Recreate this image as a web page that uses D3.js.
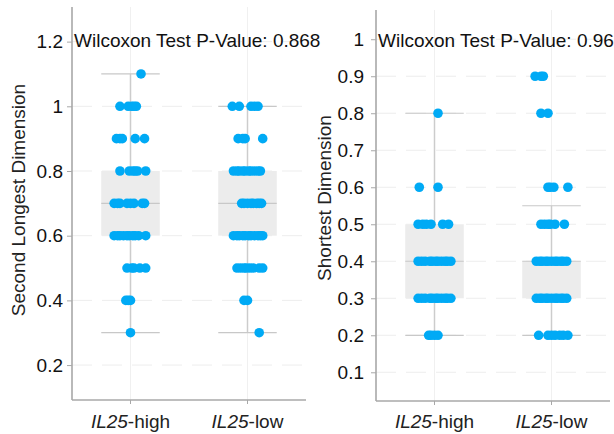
<!DOCTYPE html>
<html>
<head>
<meta charset="utf-8">
<script src="https://cdn.jsdelivr.net/npm/d3@7"></script>
<style>
  body { margin: 0; background: #fff; }
  svg { display: block; font-family: "Liberation Sans", Arial, sans-serif; }
</style>
</head>
<body>
<div id="chart"></div>
<script>
// categories and test results
var groups = ["IL25-high", "IL25-low"];
var pvalues = ["0.868", "0.96"];

// rows of points: [value, jitter offsets in % of category step]
var second_high = [
  [1.1, [9]],
  [1.0, [-9, -2, 1, 3, 5]],
  [0.9, [-12, -9, -7, 4, 12]],
  [0.8, [-9, -1, 2, 4, 6, 13]],
  [0.7, [-14, -11, -9, -3, 0, 3, 10, 12]],
  [0.6, [-14, -11, -9, -6, -3, -1, 2, 4, 7, 13]],
  [0.5, [-3, 1, 3, 8, 13]],
  [0.4, [-4, -2, 0]],
  [0.3, [0]]
];
var second_low = [
  [1.0, [-13, -7, 3, 6, 9]],
  [0.9, [-8, -4, -2, 13]],
  [0.8, [-12, -9, -7, -4, -2, 1, 3, 6, 9, 11]],
  [0.7, [-5, -3, 0, 3, 5, 8, 10, 12]],
  [0.6, [-12, -9, -7, -4, -2, 1, 3, 6, 9, 11, 13]],
  [0.5, [-9, -6, -3, -1, 2, 5, 10, 13]],
  [0.4, [-3, 0]],
  [0.3, [10]]
];
var shortest_high = [
  [0.8, [3]],
  [0.6, [-13, 3]],
  [0.5, [-14, -10, -7, -3, 7, 12]],
  [0.4, [-14, -11, -8, -4, -2, 1, 3, 6, 9, 11, 14]],
  [0.3, [-14, -11, -8, -4, -2, 1, 3, 6, 9, 11, 14]],
  [0.2, [-5, -3, 0, 3]]
];
var shortest_low = [
  [0.9, [-14, -9, -7]],
  [0.8, [-9, -3]],
  [0.6, [-3, -1, 2, 14]],
  [0.5, [-9, -6, -3, -1, 3, 11]],
  [0.4, [-13, -10, -8, -5, -3, 0, 3, 5, 8, 10, 13]],
  [0.3, [-13, -10, -8, -5, -3, 0, 3, 5, 8, 10, 13]],
  [0.2, [-11, -3, 0, 3, 7, 10, 14]]
];

// box stats: [whiskerLow, q1, median, q3, whiskerHigh]
var second_stats = [[0.3, 0.6, 0.7, 0.8, 1.1], [0.3, 0.6, 0.7, 0.8, 1.0]];
var shortest_stats = [[0.2, 0.3, 0.4, 0.5, 0.8], [0.2, 0.3, 0.4, 0.4, 0.55]];

// y ticks
var second_ticks = [0.2, 0.4, 0.6, 0.8, 1, 1.2];
var shortest_ticks = [0.1, 0.2, 0.3, 0.4, 0.5, 0.6, 0.7, 0.8, 0.9, 1];

var dotColor = "#00aaf5";

var svg = d3.select("#chart").append("svg")
  .attr("width", 614)
  .attr("height", 434);

function panel(opt) {
  var x = d3.scaleBand().domain(groups).range([opt.left, opt.right]).padding(0);
  var y = d3.scaleLinear().domain(opt.domain).range([opt.bottom, opt.top]);
  var g = svg.append("g");

  // grid
  g.selectAll(".hgrid").data(opt.ticks).enter().append("line")
    .attr("x1", opt.left).attr("x2", opt.right)
    .attr("y1", function (d) { return y(d); }).attr("y2", function (d) { return y(d); })
    .attr("stroke", "#ededed").attr("stroke-dasharray", "20,10");
  g.selectAll(".vgrid").data(groups).enter().append("line")
    .attr("x1", function (d) { return x(d) + x.bandwidth() / 2; })
    .attr("x2", function (d) { return x(d) + x.bandwidth() / 2; })
    .attr("y1", opt.top).attr("y2", opt.bottom)
    .attr("stroke", "#f0f0f0");

  // boxes
  var bw = x.bandwidth() * 0.5;
  opt.stats.forEach(function (s, i) {
    var cx = x(groups[i]) + x.bandwidth() / 2;
    g.append("line").attr("x1", cx).attr("x2", cx)
      .attr("y1", y(s[0])).attr("y2", y(s[4]))
      .attr("stroke", "#cccccc").attr("stroke-width", 1.5);
    g.append("rect").attr("x", cx - bw / 2).attr("width", bw)
      .attr("y", y(s[3])).attr("height", y(s[1]) - y(s[3]))
      .attr("fill", "#ececec");
    [s[0], s[2], s[4]].forEach(function (v) {
      g.append("line").attr("x1", cx - bw / 2).attr("x2", cx + bw / 2)
        .attr("y1", y(v)).attr("y2", y(v))
        .attr("stroke", "#c8c8c8").attr("stroke-width", 1.2);
    });
  });

  // points
  var pts = [];
  opt.series.forEach(function (rows, i) {
    rows.forEach(function (r) {
      r[1].forEach(function (j) { pts.push({ g: groups[i], v: r[0], j: j }); });
    });
  });
  g.selectAll("circle").data(pts).enter().append("circle")
    .attr("cx", function (d) { return x(d.g) + x.bandwidth() / 2 + d.j / 100 * x.step(); })
    .attr("cy", function (d) { return y(d.v); })
    .attr("r", 4.8)
    .attr("fill", dotColor);

  // axes
  var ya = g.append("g").attr("transform", "translate(" + opt.left + ",0)")
    .call(d3.axisLeft(y).tickValues(opt.ticks).tickSize(5).tickPadding(opt.pad)
      .tickFormat(function (d) { return d3.format("")(d); }));
  ya.select(".domain").attr("d", "M0," + opt.top + "V" + opt.bottom)
    .attr("stroke", "#a8a8a8").attr("stroke-width", 1.6);
  ya.selectAll(".tick line").attr("stroke", "#a8a8a8");
  ya.selectAll(".tick text").attr("font-size", 19).attr("fill", "#111");
  ya.attr("font-family", null);

  var xa = g.append("g").attr("transform", "translate(0," + opt.bottom + ")")
    .call(d3.axisBottom(x).tickSize(4).tickFormat(""));
  xa.select(".domain").attr("d", "M" + opt.left + ",0H" + opt.right)
    .attr("stroke", "#a8a8a8").attr("stroke-width", 1.6);
  xa.selectAll(".tick line").attr("stroke", "#a8a8a8");
  xa.attr("font-family", null);

  groups.forEach(function (name) {
    var parts = name.split("-");
    var t = g.append("text")
      .attr("x", x(name) + x.bandwidth() / 2).attr("y", 428)
      .attr("text-anchor", "middle").attr("font-size", 19).attr("fill", "#222");
    t.append("tspan").attr("font-style", "italic").text(parts[0]);
    t.append("tspan").text("-" + parts[1]);
  });

  // y label
  g.append("text")
    .attr("transform", "translate(" + opt.labelX + "," + opt.labelY + ") rotate(-90)")
    .attr("text-anchor", "middle").attr("font-size", 19).attr("fill", "#222")
    .text(opt.label);

  // test title
  g.append("text")
    .attr("x", opt.left + 2).attr("y", 47)
    .attr("font-size", 19).attr("fill", "#111")
    .text("Wilcoxon Test P-Value: " + opt.p);
}

panel({
  left: 72, right: 306, top: 7, bottom: 400,
  domain: [0.092, 1.307], ticks: second_ticks, pad: 4,
  stats: second_stats, series: [second_high, second_low],
  label: "Second Longest Dimension", labelX: 25, labelY: 200, p: pvalues[0]
});
panel({
  left: 376, right: 610, top: 10, bottom: 401,
  domain: [0.0224, 1.079], ticks: shortest_ticks, pad: 7,
  stats: shortest_stats, series: [shortest_high, shortest_low],
  label: "Shortest Dimension", labelX: 331, labelY: 198, p: pvalues[1]
});
</script>
</body>
</html>
